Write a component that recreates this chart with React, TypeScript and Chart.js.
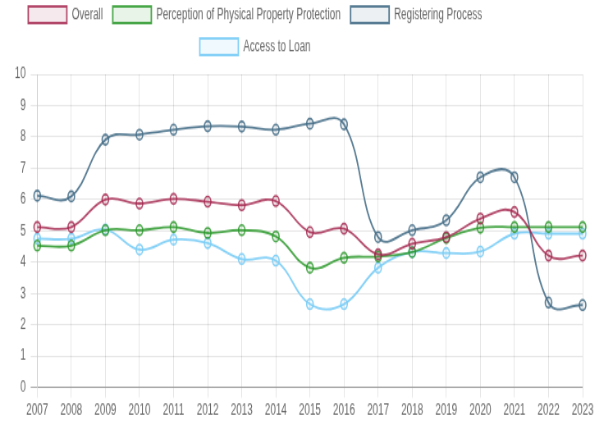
import React, { useEffect, useRef } from "react";
import { Chart, registerables } from "chart.js";

Chart.register(...registerables);

const years = ["2007","2008","2009","2010","2011","2012","2013","2014","2015","2016","2017","2018","2019","2020","2021","2022","2023"];
const overall = [5.12,5.12,6.0,5.87,6.02,5.93,5.82,5.95,4.96,5.07,4.25,4.59,4.8,5.39,5.6,4.21,4.21];
const perception = [4.53,4.53,5.02,5.02,5.12,4.93,5.02,4.82,3.82,4.14,4.18,4.32,4.77,5.1,5.12,5.12,5.12];
const registering = [6.12,6.1,7.91,8.07,8.23,8.34,8.33,8.23,8.42,8.4,4.8,5.02,5.34,6.71,6.71,2.71,2.63];
const accessLoan = [4.75,4.75,5.04,4.4,4.72,4.61,4.1,4.05,2.66,2.66,3.82,4.32,4.29,4.34,4.91,4.91,4.91];
const yTicks = [0,1,2,3,4,5,6,7,8,9,10];

const FONT = "'Liberation Sans', Arial, sans-serif";
const W = 730;
const H = 332;

export default function App() {
  const ref = useRef<HTMLCanvasElement>(null);
  useEffect(() => {
    const mk = (label: string, data: number[], border: string, bg: string) => ({
      label, data, borderColor: border, backgroundColor: bg,
      pointBackgroundColor: bg, pointBorderColor: border,
      pointRadius: 4, pointBorderWidth: 1.6, borderWidth: 1.8, tension: 0.4, fill: false,
    });
    const legendShift = {
      id: "legendShift",
      afterLayout(chart: any) {
        const lg = chart.legend;
        if (lg) { lg.left = 0; lg.right = 622; lg.top -= 5; lg.bottom -= 5; }
      },
    };
    const chart = new Chart(ref.current!, {
      type: "line",
      data: {
        labels: years,
        datasets: [
          mk("Overall", overall, "rgba(165,40,80,0.85)", "rgba(165,40,80,0.1)"),
          mk("Perception of Physical Property Protection", perception, "rgba(40,150,40,0.85)", "rgba(40,150,40,0.1)"),
          mk("Registering Process", registering, "rgba(70,110,135,0.9)", "rgba(70,110,135,0.1)"),
          mk("Access to Loan", accessLoan, "rgba(125,205,245,0.95)", "rgba(125,205,245,0.12)"),
        ],
      },
      plugins: [legendShift],
      options: {
        responsive: false,
        animation: false,
        layout: { padding: { left: 12, right: 20, top: -2, bottom: 1 } },
        plugins: {
          legend: {
            labels: { boxWidth: 47, boxHeight: 13, padding: 12, color: "#666", font: { family: FONT, size: 12 } },
          },
          tooltip: { enabled: false },
        },
        scales: {
          x: {
            grid: { color: "rgba(0,0,0,0.1)", tickLength: 8 },
            ticks: { color: "#666", font: { family: FONT, size: 12 }, maxRotation: 0, padding: 3 },
          },
          y: {
            min: 0, max: 10,
            afterBuildTicks: (s: any) => { s.ticks = yTicks.map(v => ({ value: v })); },
            grid: { color: (c: any) => c.tick && c.tick.value === 0 ? "rgba(0,0,0,0.35)" : "rgba(0,0,0,0.1)", tickLength: 8 },
            ticks: { color: "#666", font: { family: FONT, size: 12 }, padding: 6 },
          },
        },
      },
    });
    return () => chart.destroy();
  }, []);
  return (
    <div style={{ position: "fixed", left: 0, top: 0, width: 599, height: 425, background: "#fff", overflow: "hidden" }}>
      <canvas
        ref={ref}
        width={W}
        height={H}
        style={{ display: "block", width: W, height: H, transform: `scale(${599 / W}, ${425 / H})`, transformOrigin: "0 0" }}
      />
    </div>
  );
}
